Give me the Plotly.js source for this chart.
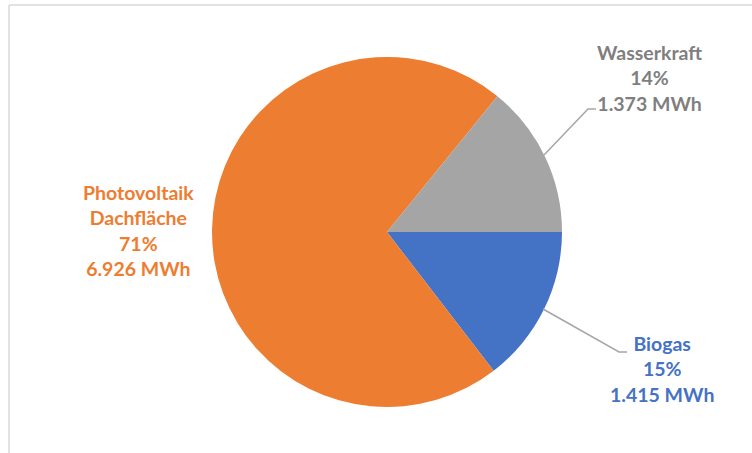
<!DOCTYPE html>
<html>
<head>
<meta charset="utf-8">
<script src="https://cdn.plot.ly/plotly-3.0.1.min.js"></script>
<style>html,body{margin:0;padding:0;background:#fff;}#chart{width:752px;height:453px;}</style>
</head>
<body>
<div id="chart"></div>
<script>
// Data (order: clockwise starting at 3 o'clock)
const categories = ["Biogas", "Photovoltaik<br>Dachfläche", "Wasserkraft"];
const valuesMWh = [1415, 6926, 1373];
const sliceColors = ["#4472C4", "#ED7D31", "#A5A5A5"];
const labelColors = ["#4472C4", "#ED7D31", "#7F7F7F"];

const W = 752, H = 453;
const px = x => x / W;
const py = y => 1 - y / H;

const total = valuesMWh.reduce((a, b) => a + b, 0);
const fmt = v => String(v).replace(/\B(?=(\d{3})+(?!\d))/g, ".");
const labelText = categories.map((c, i) =>
  c + "<br>" + Math.round(valuesMWh[i] / total * 100) + "%<br>" + fmt(valuesMWh[i]) + " MWh");

// label anchor positions (pixels)
const labelPos = [[662, 369], [138, 230], [649, 78]];

const trace = {
  type: "pie",
  labels: categories,
  values: valuesMWh,
  sort: false,
  direction: "clockwise",
  rotation: 90,
  marker: {colors: sliceColors, line: {width: 0}},
  textinfo: "none",
  hoverinfo: "label+percent+value",
  showlegend: false,
  domain: {x: [px(212), px(562)], y: [py(407), py(57)]}
};

const annotations = labelText.map((t, i) => ({
  xref: "paper", yref: "paper",
  x: px(labelPos[i][0]), y: py(labelPos[i][1]),
  xanchor: "center", yanchor: "middle",
  text: "<b>" + t + "</b>",
  showarrow: false,
  align: "center",
  font: {family: "Lato, 'Open Sans', sans-serif", size: 19.5, color: labelColors[i]}
}));

function pathPx(pts) {
  return pts.map((p, i) => (i ? "L" : "M") + px(p[0]) + "," + py(p[1])).join(" ");
}

const shapes = [
  // chart frame (top and left edges visible)
  {type: "line", xref: "paper", yref: "paper", x0: px(9), y0: py(5), x1: px(760), y1: py(5), line: {color: "#D9D9D9", width: 1.5}},
  {type: "line", xref: "paper", yref: "paper", x0: px(9), y0: py(5), x1: px(9), y1: py(460), line: {color: "#D9D9D9", width: 1.5}},
  // leader lines
  {type: "path", xref: "paper", yref: "paper", path: pathPx([[544, 155], [588, 109], [596, 109]]), line: {color: "#A6A6A6", width: 1.5}},
  {type: "path", xref: "paper", yref: "paper", path: pathPx([[543, 309], [619, 352], [627, 352]]), line: {color: "#A6A6A6", width: 1.5}}
];

const layout = {
  width: W, height: H,
  margin: {l: 0, r: 0, t: 0, b: 0},
  paper_bgcolor: "#ffffff",
  plot_bgcolor: "#ffffff",
  annotations: annotations,
  shapes: shapes
};

Plotly.newPlot("chart", [trace], layout, {displayModeBar: false, staticPlot: true});
</script>
</body>
</html>
